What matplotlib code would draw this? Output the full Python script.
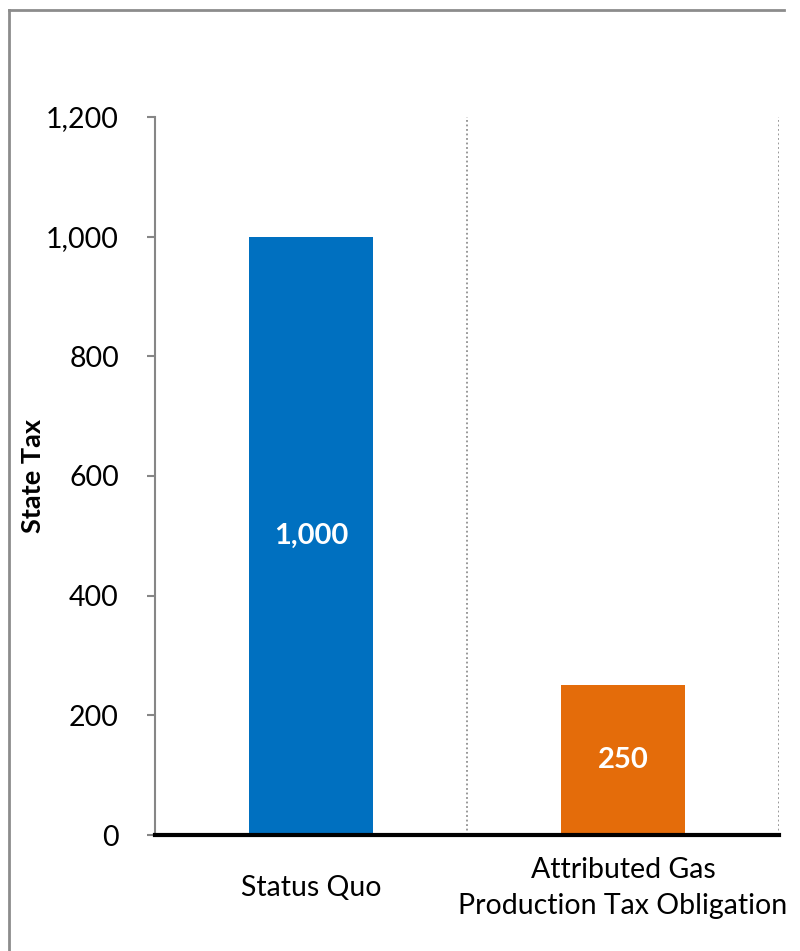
import numpy as np
from matplotlib import pyplot as plt
from matplotlib.lines import Line2D
from matplotlib.transforms import ScaledTranslation

plt.rcParams.update({
    'font.family': ['Lato', 'DejaVu Sans'],
    'font.size': 20.5,
})

categories = ['Status Quo', 'Attributed Gas\nProduction Tax Obligation']
tax = [1000, 250]
bar_labels = ['1,000', '250']
colors = ['#0070C0', '#E46C0A']
yticks = [0, 200, 400, 600, 800, 1000, 1200]

fig = plt.figure(figsize=(8, 9.51), dpi=100)
ax = fig.add_axes([155 / 800, 1 - 835 / 951, 624 / 800, 718 / 951])

x = np.arange(len(categories))
ax.bar(x, tax, width=0.4, color=colors, zorder=2)
for xi, v, lab in zip(x, tax, bar_labels):
    ax.text(xi, v / 2, lab, ha='center', va='center', color='white',
            fontsize=21, fontweight='bold', zorder=3)

ax.set_xlim(-0.5, 1.5)
ax.set_ylim(0, 1200)
ax.set_yticks(yticks)
ax.set_yticklabels([f'{t:,}' for t in yticks])
ax.set_xticks(x)
ax.set_xticklabels(categories, linespacing=1.45)
for t in ax.get_xticklabels():
    t.set_va('center')
# second label sits a little right of its bar in the original
lab2 = ax.get_xticklabels()[1]
lab2.set_transform(lab2.get_transform() + ScaledTranslation(0.06, 0, fig.dpi_scale_trans))
ax.tick_params(axis='x', length=0, pad=38)
ax.tick_params(axis='y', length=6, width=1.5, color='#868686', pad=20)

# dotted separators between categories
for xb in [0.5, 1.5]:
    ax.axvline(xb, color='#909090', linestyle=(0, (1, 1.5)), linewidth=1.3, zorder=1)

for s in ['top', 'right']:
    ax.spines[s].set_visible(False)
ax.spines['left'].set_color('#868686')
ax.spines['left'].set_linewidth(1.5)
ax.spines['bottom'].set_color('black')
ax.spines['bottom'].set_linewidth(3)
ax.spines['bottom'].set_zorder(4)

ax.set_ylabel('State Tax', fontweight='bold', fontsize=19.5)
ax.yaxis.set_label_coords(-0.176, 0.5)

# outer chart frame (top and left edges visible)
fig.add_artist(Line2D([9 / 800, 9 / 800], [0, 1 - 10 / 951], transform=fig.transFigure,
                      color='#8C8C8C', linewidth=2))
fig.add_artist(Line2D([9 / 800, 784 / 800], [1 - 10 / 951, 1 - 10 / 951], transform=fig.transFigure,
                      color='#8C8C8C', linewidth=2))

fig.savefig('out.png', dpi=100)
